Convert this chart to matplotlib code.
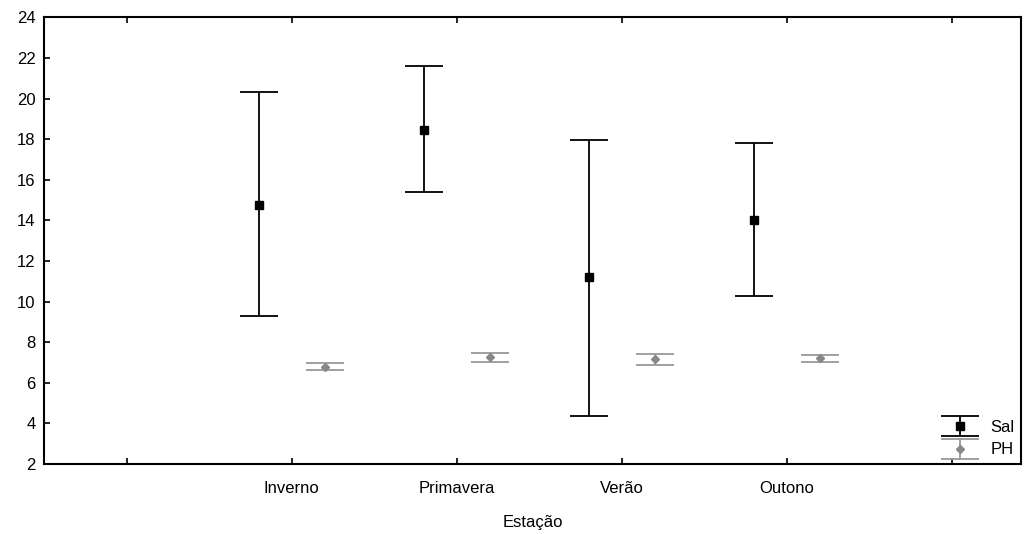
import matplotlib
matplotlib.use("Agg")
import matplotlib.pyplot as plt
from matplotlib.legend_handler import HandlerErrorbar
import numpy as np

plt.rcParams['font.family'] = ['Liberation Sans', 'DejaVu Sans']

categories = ["Inverno", "Primavera", "Verão", "Outono"]
sal_mean = [14.78, 18.45, 11.20, 14.02]
sal_upper = [20.32, 21.62, 17.95, 17.80]
sal_lower = [9.27, 15.42, 4.36, 10.25]
ph_mean = [6.80, 7.27, 7.17, 7.22]
ph_upper = [6.97, 7.47, 7.40, 7.38]
ph_lower = [6.64, 7.03, 6.90, 7.03]
yticks = [2, 4, 6, 8, 10, 12, 14, 16, 18, 20, 22, 24]

fig = plt.figure(figsize=(10.27, 5.34), dpi=100)
ax = fig.add_axes([44/1027, 1-464/534, (1021-44)/1027, (464-17.3)/534])

x = np.arange(1, len(categories) + 1)
off = 0.2
sal_m = np.array(sal_mean)
ph_m = np.array(ph_mean)
sal_err = [sal_m - np.array(sal_lower), np.array(sal_upper) - sal_m]
ph_err = [ph_m - np.array(ph_lower), np.array(ph_upper) - ph_m]

h1 = ax.errorbar(x - off, sal_m, yerr=sal_err, fmt='s', color='black', ms=6,
                 ecolor='black', elinewidth=1.3, capsize=13.7, capthick=1.3,
                 label='Sal')
h2 = ax.errorbar(x + off, ph_m, yerr=ph_err, fmt='D', color='#888888', ms=4.5,
                 ecolor='#999999', elinewidth=1.3, capsize=13.7, capthick=1.3,
                 label='PH')

ax.set_xlim(-0.5, 5.42)
ax.set_ylim(2, 24)
ax.set_yticks(yticks)
ax.set_xticks(np.arange(0, len(categories) + 2))
ax.set_xticklabels([""] + categories + [""])
ax.tick_params(direction='in', length=4, width=1.2, labelsize=12,
               top=True, right=False, pad=6)
ax.tick_params(axis='x', pad=12)
for s in ax.spines.values():
    s.set_linewidth(1.5)
ax.set_xlabel("Estação", fontsize=12, labelpad=14)

ax.legend(handles=[h1, h2], loc='lower right', frameon=False, fontsize=12,
          handler_map={type(h1): HandlerErrorbar(xerr_size=0.5, yerr_size=0.6)},
          labelspacing=0.45, handlelength=2.2, handletextpad=0.7,
          borderaxespad=0.35, borderpad=0.05)

fig.savefig("out.png", dpi=100)
